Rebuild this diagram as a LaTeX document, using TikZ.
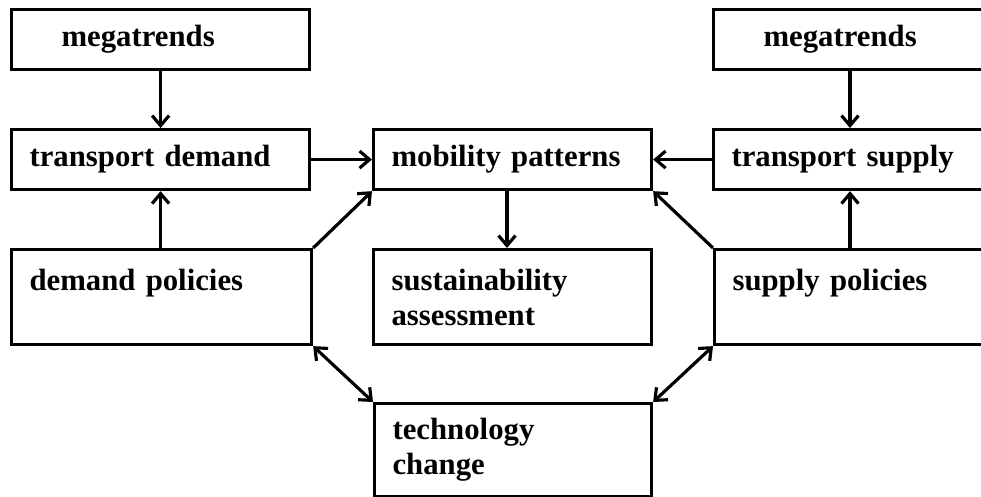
\documentclass[tikz,border=0pt]{standalone}
\usepackage{fontspec}
\setmainfont{Liberation Serif}
\usetikzlibrary{arrows.meta}

\begin{document}
\begin{tikzpicture}[
    box/.style={draw, line width=1.8pt, anchor=north west, minimum height=1.2cm,
                inner xsep=0.36cm, inner ysep=0pt, align=left, text width=5.24cm,
                font=\fontsize{17.5}{20}\selectfont\bfseries},
    midbox/.style={box, text width=4.84cm},
    trendbox/.style={box, inner xsep=1cm, text width=3.96cm},
    tallbox/.style={minimum height=1.9cm},
    tip/.tip={Straight Barb[length=2mm, width=3.4mm, line width=1.8pt]},
    arr/.style={line width=1.8pt, -tip},
    twoway/.style={line width=1.8pt, tip-tip}]
  % page is 19.62cm x 9.94cm, right-hand boxes run off the edge
  \useasboundingbox (0,0) rectangle (19.62,-9.94);
  \clip (0,0) rectangle (19.62,-9.94);

  % demand side
  \node[trendbox] (megaL) at (0.2,-0.16) {megatrends};
  \node[box] (demand) at (0.2,-2.56) {transport demand};
  \node[box, tallbox, text width=5.28cm] (dpol) at (0.2,-4.96) {demand policies\\\mbox{}};

  % middle column
  \node[midbox] (mob) at (7.44,-2.56) {mobility patterns};
  \node[midbox, tallbox] (sust) at (7.44,-4.96) {sustainability\\assessment};
  \node[midbox, minimum height=1.86cm, text width=4.82cm] (tech) at (7.46,-8.04) {technology\\change};

  % supply side
  \node[trendbox] (megaR) at (14.24,-0.16) {megatrends};
  \node[box] (supply) at (14.24,-2.56) {transport supply};
  \node[box, tallbox] (spol) at (14.26,-4.96) {supply policies\\\mbox{}};

  \coordinate (rx) at (17,0);
  \coordinate (mx) at (10.14,0);

  \draw[arr] (megaL) -- (demand);
  \draw[arr] (dpol.north -| megaL.south) -- (demand.south -| megaL.south);
  \draw[arr] (megaR.south -| rx) -- (supply.north -| rx);
  \draw[arr] (spol.north -| rx) -- (supply.south -| rx);

  \draw[arr] (demand) -- (mob);
  \draw[arr] (supply) -- (mob);
  \draw[arr] (mob.south -| mx) -- (sust.north -| mx);
  \draw[arr] (dpol.north east) -- (mob.south west);
  \draw[arr] (spol.north west) -- (mob.south east);

  \draw[twoway] (dpol.south east) -- (tech.north west);
  \draw[twoway] (spol.south west) -- (tech.north east);
\end{tikzpicture}
\end{document}
